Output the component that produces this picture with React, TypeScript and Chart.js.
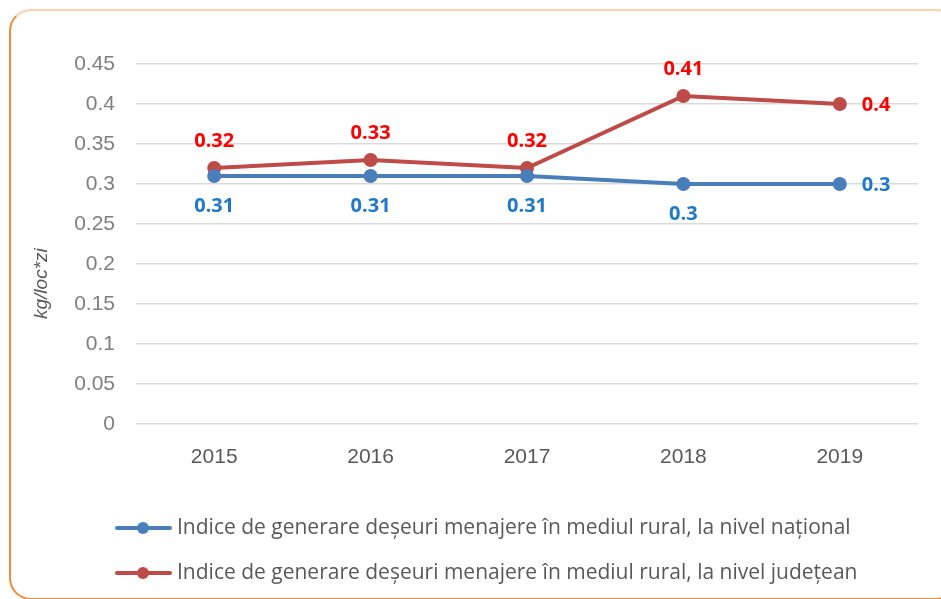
import React, { useEffect, useRef } from "react";
import { Chart, registerables } from "chart.js";

Chart.register(...registerables);

const years = ["2015", "2016", "2017", "2018", "2019"];
const nationalValues = [0.31, 0.31, 0.31, 0.3, 0.3];
const countyValues = [0.32, 0.33, 0.32, 0.41, 0.4];
const seriesNames = [
  "Indice de generare deșeuri menajere în mediul rural, la nivel național",
  "Indice de generare deșeuri menajere în mediul rural, la nivel județean",
];
const yAxisTitle = "kg/loc*zi";
const yMin = 0;
const yMax = 0.45;
const yStep = 0.05;

const lineColors = ["#4A7EBB", "#BE4B48"];
const labelColors = ["#1F78C8", "#FF0000"];
const FONT = "'Liberation Sans', Arial, sans-serif";
const OPEN = "'Open Sans', 'Liberation Sans', sans-serif";

const dataLabelPlugin = {
  id: "dataLabels",
  afterDatasetsDraw(chart: any) {
    const ctx = chart.ctx;
    ctx.save();
    ctx.font = `bold 20px ${OPEN}`;
    chart.data.datasets.forEach((ds: any, di: number) => {
      const meta = chart.getDatasetMeta(di);
      meta.data.forEach((pt: any, i: number) => {
        const v = ds.data[i];
        const last = i === meta.data.length - 1;
        ctx.fillStyle = labelColors[di];
        ctx.textBaseline = "middle";
        if (last) {
          ctx.textAlign = "left";
          ctx.fillText(String(v), pt.x + 22, pt.y + 1);
        } else {
          ctx.textAlign = "center";
          const dy = di === 0 ? 30 : -27;
          ctx.fillText(String(v), pt.x, pt.y + dy);
        }
      });
    });
    ctx.restore();
  },
};

const extrasPlugin = {
  id: "extras",
  afterDraw(chart: any) {
    const ctx = chart.ctx;
    const area = chart.chartArea;
    ctx.save();
    // y-axis title
    ctx.font = `italic 19px ${FONT}`;
    ctx.fillStyle = "#595959";
    ctx.textAlign = "center";
    ctx.textBaseline = "middle";
    ctx.translate(42, area.top + (area.bottom - area.top) * 0.61);
    ctx.rotate(-Math.PI / 2);
    ctx.fillText(yAxisTitle, 0, 0);
    ctx.restore();

    // legend
    ctx.save();
    const baseY = area.bottom + 104;
    chart.data.datasets.forEach((ds: any, di: number) => {
      const y = baseY + di * 45;
      ctx.strokeStyle = lineColors[di];
      ctx.lineWidth = 4;
      ctx.lineCap = "round";
      ctx.beginPath();
      ctx.moveTo(117, y);
      ctx.lineTo(170, y);
      ctx.stroke();
      ctx.fillStyle = lineColors[di];
      ctx.beginPath();
      ctx.arc(143, y, 6, 0, Math.PI * 2);
      ctx.fill();
      ctx.font = `21px ${OPEN}`;
      ctx.fillStyle = "#595959";
      ctx.textAlign = "left";
      ctx.textBaseline = "middle";
      ctx.fillText(ds.label, 177, y);
    });
    ctx.restore();
  },
};

export default function App() {
  const canvasRef = useRef<HTMLCanvasElement | null>(null);

  useEffect(() => {
    if (!canvasRef.current) return;
    const chart = new Chart(canvasRef.current, {
      type: "line",
      data: {
        labels: years,
        datasets: [
          {
            label: seriesNames[0],
            data: nationalValues,
            borderColor: lineColors[0],
            backgroundColor: lineColors[0],
            borderWidth: 4,
            pointRadius: 7,
            pointHoverRadius: 7,
            pointBackgroundColor: lineColors[0],
            pointBorderWidth: 0,
            tension: 0,
          },
          {
            label: seriesNames[1],
            data: countyValues,
            borderColor: lineColors[1],
            backgroundColor: lineColors[1],
            borderWidth: 4,
            pointRadius: 7,
            pointHoverRadius: 7,
            pointBackgroundColor: lineColors[1],
            pointBorderWidth: 0,
            tension: 0,
          },
        ],
      },
      options: {
        responsive: false,
        animation: false,
        maintainAspectRatio: false,
        layout: { padding: { left: 60, right: 23, top: 64, bottom: 100 } },
        plugins: {
          legend: { display: false },
          tooltip: { enabled: false },
        },
        scales: {
          x: {
            type: "category",
            offset: true,
            grid: { display: false, drawTicks: false },
            border: { display: false },
            ticks: {
              color: "#595959",
              font: { family: FONT, size: 21 },
              padding: 21,
              maxRotation: 0,
            },
            afterFit: (scale: any) => {
              scale.height = 75;
            },
          },
          y: {
            min: yMin,
            max: yMax,
            grid: { color: "#D9D9D9", lineWidth: 1.5, drawTicks: false },
            border: { display: false },
            ticks: {
              stepSize: yStep,
              color: "#7F7F7F",
              font: { family: FONT, size: 21 },
              padding: 21,
              callback: (v: any) => String(Number(Number(v).toFixed(2))),
            },
            afterFit: (scale: any) => {
              scale.width = 76;
            },
          },
        },
      },
      plugins: [dataLabelPlugin, extrasPlugin],
    });
    return () => chart.destroy();
  }, []);

  return (
    <div
      style={{
        position: "fixed",
        left: 0,
        top: 0,
        width: 941,
        height: 599,
        overflow: "hidden",
        background: "#FFFFFF",
      }}
    >
      <div
        style={{
          position: "absolute",
          left: 9,
          top: 9,
          width: 945,
          height: 587,
          borderStyle: "solid",
          borderWidth: 2,
          borderTopColor: "#FAD3AE",
          borderLeftColor: "#F28C38",
          borderBottomColor: "#F28C38",
          borderRightColor: "#F28C38",
          borderRadius: 22,
        }}
      />
      <canvas
        ref={canvasRef}
        width={941}
        height={599}
        style={{ position: "absolute", left: 0, top: 0, width: 941, height: 599 }}
      />
    </div>
  );
}
